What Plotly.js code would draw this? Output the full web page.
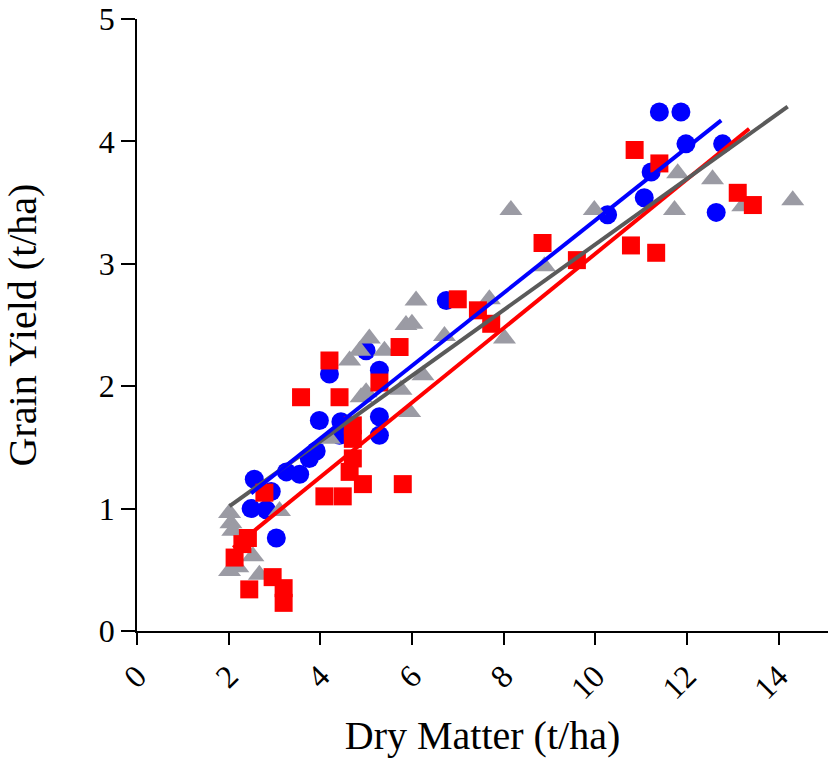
<!DOCTYPE html>
<html>
<head>
<meta charset="utf-8">
<script src="https://cdn.plot.ly/plotly-3.0.1.min.js"></script>
<style>
  body { margin: 0; background: #fff; }
  #chart { width: 829px; height: 760px; }
</style>
</head>
<body>
<div id="chart"></div>
<script>
// Blue circles
var blueX = [2.56, 2.93, 2.49, 2.82, 3.04, 3.26, 3.55, 3.76, 3.91, 3.98, 4.42, 4.45, 4.20,
             5.00, 5.29, 5.29, 5.29, 6.75, 10.27, 11.07, 11.22, 11.40, 11.87, 11.98, 12.64, 12.78];
var blueY = [1.24, 1.14, 1.00, 0.99, 0.76, 1.30, 1.28, 1.41, 1.47, 1.72, 1.60, 1.71, 2.10,
             2.29, 2.13, 1.75, 1.60, 2.70, 3.40, 3.54, 3.75, 4.24, 4.24, 3.98, 3.42, 3.98];

// Red squares
var redX = [2.13, 2.30, 2.42, 2.45, 2.78, 2.96, 3.20, 3.20, 3.58, 4.09, 4.20, 4.42, 4.49,
            4.64, 4.71, 4.71, 4.71, 4.93, 5.29, 5.73, 5.80, 7.00, 7.44, 7.73, 8.85, 9.60,
            10.78, 10.86, 11.33, 11.40, 13.11, 13.44];
var redY = [0.60, 0.71, 0.76, 0.34, 1.13, 0.44, 0.35, 0.23, 1.91, 1.10, 2.21, 1.91, 1.10,
            1.30, 1.41, 1.57, 1.68, 1.20, 2.03, 2.32, 1.20, 2.71, 2.62, 2.51, 3.17, 3.03,
            3.15, 3.93, 3.09, 3.82, 3.58, 3.48];

// Grey triangles
var greyX = [2.02, 2.05, 2.09, 2.02, 2.20, 2.53, 2.67, 3.11, 4.20, 4.64, 4.86, 5.07, 5.40,
             4.89, 5.00, 5.76, 5.95, 6.24, 5.87, 6.00, 6.09, 6.71, 7.69, 8.02, 8.16, 8.89,
             9.98, 11.73, 11.80, 12.56, 13.22, 14.31];
var greyY = [0.965, 0.88, 0.82, 0.49, 0.52, 0.61, 0.46, 0.98, 1.57, 2.21, 2.29, 2.39, 2.29,
             1.91, 1.95, 1.97, 1.79, 2.09, 2.50, 2.51, 2.70, 2.41, 2.71, 2.39, 3.44, 2.98,
             3.44, 3.44, 3.74, 3.69, 3.47, 3.52];

// regression lines: [intercept, slope] and x extent
var blueFit = [0.385, 0.297];
var blueRange = [2.49, 12.75];
var redFit = [0.0416, 0.304];
var redRange = [2.10, 13.36];
var greyFit = [0.478, 0.268];
var greyRange = [2.02, 14.20];

var BLUE = '#0000ff';
var RED = '#ff0000';
var GREY = '#9b9ba4';
var GREYLINE = '#5a5a5a';

function fitLine(fit, range, color) {
    return {
        type: 'scatter',
        mode: 'lines',
        x: range,
        y: range.map(function (v) { return fit[0] + fit[1] * v; }),
        line: { color: color, width: 4 },
        hoverinfo: 'skip',
        showlegend: false
    };
}

var data = [
    {
        type: 'scatter', mode: 'markers', x: blueX, y: blueY,
        marker: { symbol: 'circle', size: 19, color: BLUE }
    },
    {
        type: 'scatter', mode: 'markers', x: greyX, y: greyY,
        marker: { symbol: 'triangle-up', size: 20, color: GREY }
    },
    {
        type: 'scatter', mode: 'markers', x: redX, y: redY,
        marker: { symbol: 'square', size: 18, color: RED }
    },
    fitLine(redFit, redRange, RED),
    fitLine(greyFit, greyRange, GREYLINE),
    fitLine(blueFit, blueRange, BLUE)
];

var serif = 'Liberation Serif, Times New Roman, serif';

var layout = {
    width: 829,
    height: 760,
    margin: { t: 19, b: 129, l: 137, r: 1 },
    showlegend: false,
    plot_bgcolor: '#fff',
    paper_bgcolor: '#fff',
    font: { family: serif, color: '#000', size: 32 },
    xaxis: {
        range: [0, 15.08],
        tickvals: [0, 2, 4, 6, 8, 10, 12, 14],
        tickangle: -45,
        ticks: 'outside',
        ticklen: 12,
        tickwidth: 1.5,
        tickcolor: '#000',
        showline: true,
        linecolor: '#000',
        linewidth: 1.5,
        showgrid: false,
        zeroline: false,
        ticklabeloverflow: 'allow',
        tickfont: { family: serif, size: 32 },
        title: { text: 'Dry Matter (t/ha)', font: { family: serif, size: 40 }, standoff: 16 }
    },
    yaxis: {
        range: [0, 5],
        tickvals: [0, 1, 2, 3, 4, 5],
        ticks: 'outside',
        ticklen: 14,
        tickwidth: 1.5,
        tickcolor: '#000',
        showline: true,
        linecolor: '#000',
        linewidth: 1.5,
        showgrid: false,
        zeroline: false,
        ticklabeloverflow: 'allow',
        tickfont: { family: serif, size: 32 },
        title: { text: 'Grain Yield (t/ha)', font: { family: serif, size: 40 }, standoff: 52 }
    }
};

Plotly.newPlot('chart', data, layout, { displayModeBar: false });
</script>
</body>
</html>
